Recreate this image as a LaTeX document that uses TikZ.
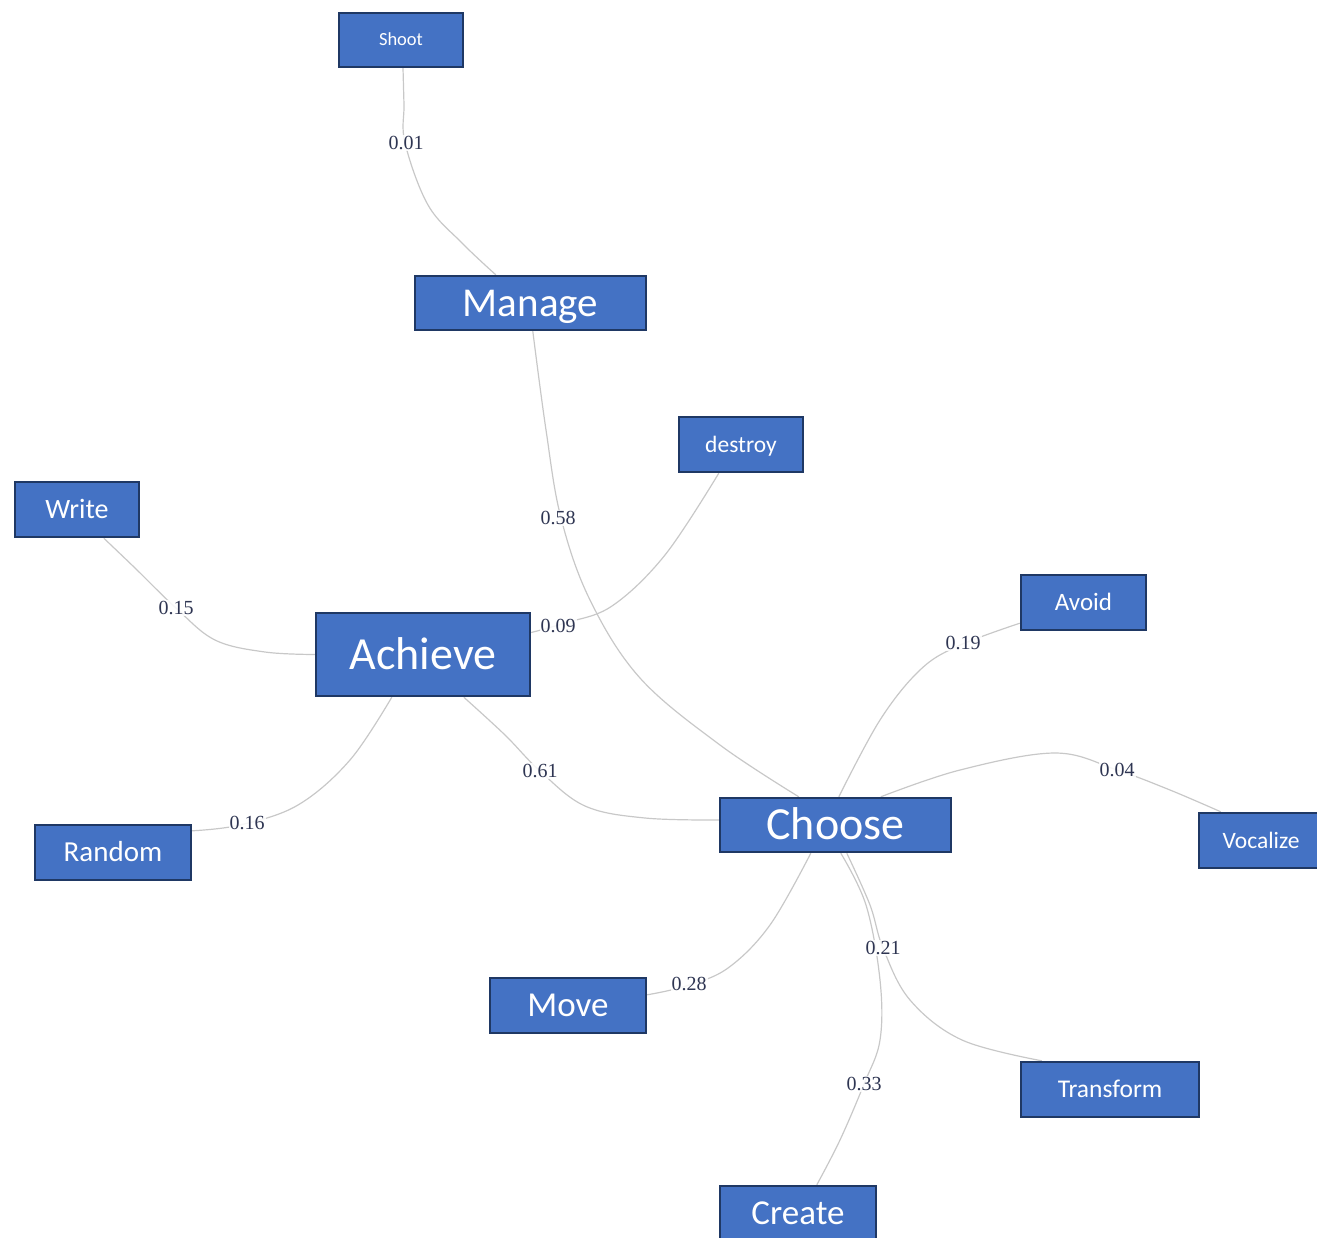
\documentclass[tikz,border=0pt]{standalone}
\usepackage{fontspec}
\setmainfont{Carlito}
\newfontfamily\lblfont{Liberation Serif}
\usetikzlibrary{calc}
\pgfdeclarelayer{background}
\pgfsetlayers{background,main}
\definecolor{boxfill}{HTML}{4472C4}
\definecolor{boxline}{HTML}{1F3864}
\definecolor{edgecol}{HTML}{C8C8C8}
\definecolor{lblcol}{HTML}{2E3552}
\tikzset{
  cbox/.style={draw=boxline, line width=2.4pt, fill=boxfill, text=white, inner sep=0pt, anchor=center, text depth=0pt},
  fs/.style={font=\fontsize{#1}{#1}\selectfont, text height={0.64*#1pt}},
  elbl/.style={text=lblcol, fill=white, fill opacity=0.85, text opacity=1, inner sep=1pt, font=\lblfont\fontsize{20}{20}\selectfont},
  edge/.style={draw=edgecol, line width=1.2pt, smooth, tension=0.6},
}
\begin{document}
\begin{tikzpicture}[x=1pt,y=-1pt]
\useasboundingbox (0,0) rectangle (1317,1237);
% boxes
\node[cbox, fs=18.5, minimum width=124pt, minimum height=54pt] (shoot) at (401,40) {Shoot};
\node[cbox, fs=41, minimum width=231pt, minimum height=54pt] (manage) at (530.5,303) {Manage};
\node[cbox, fs=23.5, minimum width=124pt, minimum height=55pt] (destroy) at (741,444.5) {destroy};
\node[cbox, fs=28, minimum width=124pt, minimum height=55pt] (write) at (77,509.5) {Write};
\node[cbox, fs=46, minimum width=214pt, minimum height=83pt] (achieve) at (423,654.5) {Achieve};
\node[cbox, fs=25, minimum width=125pt, minimum height=55pt] (avoid) at (1083.5,602.5) {Avoid};
\node[cbox, fs=46, minimum width=231pt, minimum height=54pt] (choose) at (835.5,825) {Choose};
\node[cbox, fs=23.5, minimum width=124pt, minimum height=55pt] (vocalize) at (1261,840.5) {Vocalize};
\node[cbox, fs=29, minimum width=156pt, minimum height=55pt] (random) at (113,852.5) {Random};
\node[cbox, fs=35, minimum width=156pt, minimum height=55pt] (move) at (568,1005.5) {Move};
\node[cbox, fs=25.5, minimum width=178pt, minimum height=55pt] (transform) at (1110,1089.5) {Transform};
\node[cbox, fs=35, minimum width=156pt, minimum height=55pt] (create) at (798,1213.5) {Create};
% labels
\node[elbl] (l01) at (406,143) {0.01};
\node[elbl] (l58) at (558,518) {0.58};
\node[elbl] (l09) at (558,626) {0.09};
\node[elbl] (l15) at (176,608) {0.15};
\node[elbl] (l61) at (540,771) {0.61};
\node[elbl] (l16) at (247,823) {0.16};
\node[elbl] (l19) at (963,643) {0.19};
\node[elbl] (l04) at (1117,770) {0.04};
\node[elbl] (l28) at (689,984) {0.28};
\node[elbl] (l21) at (883,948) {0.21};
\node[elbl] (l33) at (864,1084) {0.33};
% edges
\begin{pgfonlayer}{background}
\draw[edge] plot coordinates {($(shoot.south)+(2,0)$) (404,105) ($(l01.center)+(-1,0)$) (428,205) (462,243) ($(manage.north west)+(82,0)$)};
\draw[edge] plot coordinates {($(manage.south west)+(119,0)$) (546,430) ($(l58.center)+(3,0)$) (590,600) (640,678) (720,745) ($(choose.north west)+(80,0)$)};
\draw[edge] plot coordinates {($(destroy.south west)+(41,0)$) (665,555) (612,606) ($(l09.center)+(7,-3)$) ($(achieve.east)+(0,-22)$)};
\draw[edge] plot coordinates {($(write.south west)+(90,0)$) (135,568) (l15) (215,640) (265,652) (achieve.west)};
\draw[edge] plot coordinates {($(achieve.south west)+(149,0)$) (505,735) (l61) (585,806) (645,818) ($(choose.west)+(0,-5)$)};
\draw[edge] plot coordinates {($(achieve.south west)+(77,0)$) (350,760) (298,805) ($(l16.center)+(-7,2)$) ($(random.north east)+(0,7)$)};
\draw[edge] plot coordinates {($(choose.north west)+(120,0)$) (880,720) (920,670) ($(l19.center)+(-5,3)$) ($(avoid.south west)+(0,-8)$)};
\draw[edge] plot coordinates {($(choose.north west)+(162,0)$) (960,770) (1055,753) (l04) (1170,790) ($(vocalize.north west)+(23,0)$)};
\draw[edge] plot coordinates {($(choose.south west)+(92,0)$) (770,925) (728,968) ($(l28.center)+(-3,2)$) ($(move.north east)+(0,18)$)};
\draw[edge] plot coordinates {($(choose.south west)+(128,0)$) (870,905) (l21) (910,1000) (962,1040) ($(transform.north west)+(22,0)$)};
\draw[edge] plot coordinates {($(choose.south west)+(122,0)$) (866,905) (880,980) (880,1040) (l33) (840,1140) ($(create.north west)+(98,0)$)};
\end{pgfonlayer}
\end{tikzpicture}
\end{document}
